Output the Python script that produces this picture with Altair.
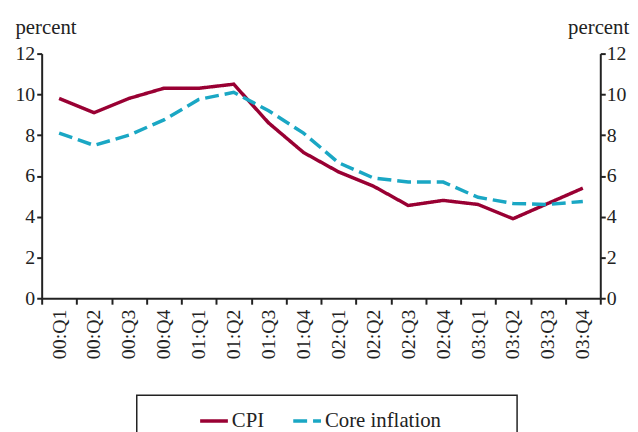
import altair as alt
import pandas as pd

quarters = ["00:Q1", "00:Q2", "00:Q3", "00:Q4", "01:Q1", "01:Q2", "01:Q3", "01:Q4",
            "02:Q1", "02:Q2", "02:Q3", "02:Q4", "03:Q1", "03:Q2", "03:Q3", "03:Q4"]
cpi = [9.8, 9.1, 9.8, 10.3, 10.3, 10.5, 8.6, 7.15, 6.2, 5.5, 4.55, 4.8, 4.6, 3.9, 4.65, 5.4]
core = [8.1, 7.5, 8.0, 8.75, 9.75, 10.1, 9.2, 8.1, 6.65, 5.9, 5.7, 5.7, 4.95, 4.65, 4.6, 4.75]
series_names = ["CPI", "Core inflation"]
series_colors = ["#990033", "#1AA7C4"]
y_ticks = [0, 2, 4, 6, 8, 10, 12]

rows = []
for q, a, b in zip(quarters, cpi, core):
    rows.append({"quarter": q, "series": "CPI", "value": a})
    rows.append({"quarter": q, "series": "Core inflation", "value": b})
df = pd.DataFrame(rows)

FONT = "Liberation Serif"

legend = alt.Legend(orient="none", legendX=158, legendY=355, direction="horizontal",
                    title=None, symbolType="stroke", symbolSize=784, symbolStrokeWidth=3.5,
                    labelFont=FONT, labelFontSize=21, labelColor="#222222",
                    columnPadding=22, labelOffset=2, padding=0)

xaxis = alt.Axis(title=None, labelAngle=-90, tickBand="extent",
                 labelFont=FONT, labelFontSize=20, labelColor="#222222",
                 labelPadding=5, tickSize=6, tickWidth=2, tickColor="#222222",
                 domainColor="#222222", domainWidth=2, grid=False)
xscale = alt.Scale(type="band", paddingInner=0, paddingOuter=0)

lines = alt.Chart(df).mark_line(strokeWidth=3.5).encode(
    x=alt.X("quarter:N", sort=quarters, bandPosition=0.5, scale=xscale, axis=xaxis),
    y=alt.Y("value:Q", scale=alt.Scale(domain=[0, 12]),
            axis=alt.Axis(orient="left", values=y_ticks, title="percent", titleAngle=0,
                          titleX=-27, titleY=-20, titleAlign="left", titleBaseline="alphabetic",
                          titleFont=FONT, titleFontSize=21, titleFontWeight="normal",
                          titleColor="#222222",
                          labelFont=FONT, labelFontSize=20, labelColor="#222222",
                          labelPadding=2, tickSize=5, tickWidth=2, tickColor="#222222",
                          domainColor="#222222", domainWidth=2, grid=False)),
    color=alt.Color("series:N", scale=alt.Scale(domain=series_names, range=series_colors),
                    legend=legend),
    strokeDash=alt.StrokeDash("series:N",
                              scale=alt.Scale(domain=series_names, range=[[1, 0], [14, 6]]),
                              legend=legend),
)

right = alt.Chart(df).mark_line(opacity=0).encode(
    x=alt.X("quarter:N", sort=quarters, bandPosition=0.5, scale=xscale, axis=xaxis),
    y=alt.Y("value:Q", scale=alt.Scale(domain=[0, 12]),
            axis=alt.Axis(orient="right", values=y_ticks, title="percent", titleAngle=0,
                          titleX=-33, titleY=-20, titleAlign="left", titleBaseline="alphabetic",
                          titleFont=FONT, titleFontSize=21, titleFontWeight="normal",
                          titleColor="#222222",
                          labelFont=FONT, labelFontSize=20, labelColor="#222222",
                          labelPadding=1, tickSize=5, tickWidth=2, tickColor="#222222",
                          domainColor="#222222", domainWidth=2, grid=False)),
)

box = alt.Chart(pd.DataFrame({"a": [0]})).mark_rect(
    fill=None, stroke="#222222", strokeWidth=1.5
).encode(x=alt.value(96), x2=alt.value(480), y=alt.value(345), y2=alt.value(500))

chart = alt.layer(lines, right, box).resolve_scale(y="independent").properties(
    width=564, height=247,
    padding={"left": 34, "top": 44, "right": 30, "bottom": 133},
    autosize=alt.AutoSizeParams(type="none"),
).configure_view(stroke=None).configure_legend(
    labelFont=FONT, labelFontSize=21
).configure_axis(labelFont=FONT, titleFont=FONT)

chart.save("out.html", embed_options={"renderer": "svg", "actions": False})
